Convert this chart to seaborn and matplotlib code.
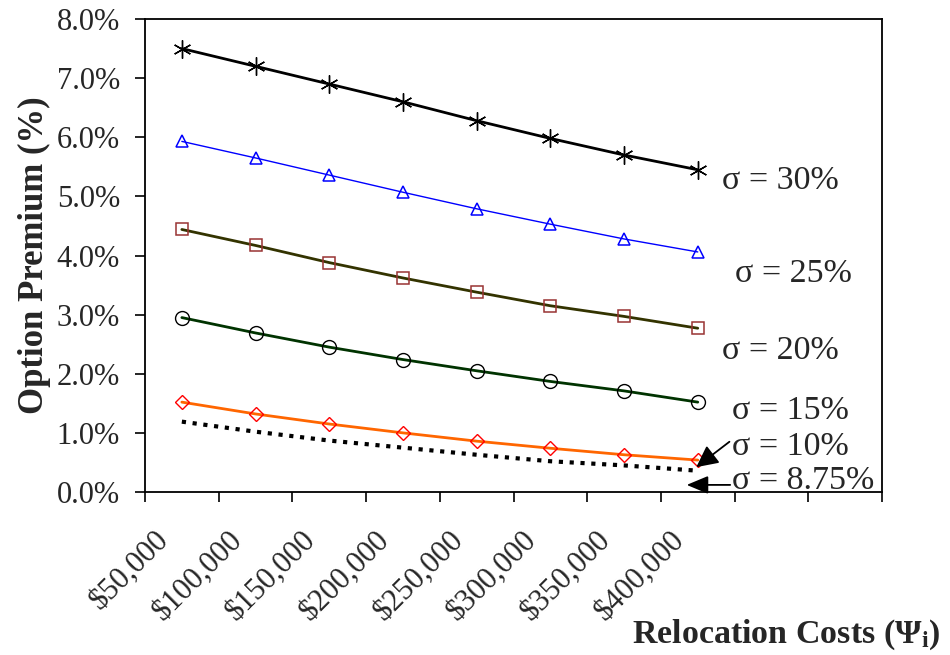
import matplotlib
matplotlib.use("Agg")
import matplotlib.pyplot as plt
import matplotlib.transforms as mtransforms
import seaborn as sns
import numpy as np
import pandas as pd
from matplotlib.ticker import FixedLocator, FuncFormatter

categories = ["$50,000", "$100,000", "$150,000", "$200,000",
              "$250,000", "$300,000", "$350,000", "$400,000"]
sigma_30 = [7.50, 7.20, 6.90, 6.60, 6.28, 5.98, 5.70, 5.45]
sigma_25 = [5.93, 5.65, 5.36, 5.07, 4.79, 4.53, 4.28, 4.06]
sigma_20 = [4.44, 4.17, 3.88, 3.62, 3.38, 3.15, 2.97, 2.77]
sigma_15 = [2.95, 2.69, 2.45, 2.24, 2.05, 1.87, 1.71, 1.52]
sigma_10 = [1.52, 1.32, 1.15, 1.00, 0.86, 0.74, 0.63, 0.54]
sigma_875 = [1.19, 1.02, 0.87, 0.75, 0.63, 0.52, 0.45, 0.36]
labels = ["σ = 30%", "σ = 25%", "σ = 20%", "σ = 15%", "σ = 10%", "σ = 8.75%"]

sns.set_theme(style="white")
plt.rcParams["font.family"] = ["Liberation Serif", "DejaVu Serif"]
plt.rcParams["mathtext.fontset"] = "custom"
plt.rcParams["mathtext.rm"] = "Liberation Serif"
plt.rcParams["mathtext.bf"] = "Liberation Serif:bold"
plt.rcParams["mathtext.it"] = "Liberation Serif:italic"

fig = plt.figure(figsize=(9.5, 6.55), dpi=100)
ax = fig.add_axes([145/950, 1-492/655, (882-145)/950, (492-19)/655])

x = np.arange(len(categories))
styles = [
    dict(data=sigma_30, color="black", lw=2.0, marker=(6, 2, 0), ms=13, mfc="none", mec="black", mew=1.0),
    dict(data=sigma_25, color="#0000FF", lw=1.0, marker="^", ms=9, mfc="none", mec="#0000FF", mew=1.1),
    dict(data=sigma_20, color="#333300", lw=2.0, marker="s", ms=8, mfc="none", mec="#993333", mew=1.1),
    dict(data=sigma_15, color="#003300", lw=2.0, marker="o", ms=10, mfc="none", mec="black", mew=1.0),
    dict(data=sigma_10, color="#FF6600", lw=2.0, marker="D", ms=7, mfc="none", mec="#FF0000", mew=1.0),
]
for st in styles:
    df = pd.DataFrame({"x": x, "y": st["data"]})
    sns.lineplot(data=df, x="x", y="y", ax=ax, color=st["color"], linewidth=st["lw"],
                 marker=st["marker"], markersize=st["ms"], markerfacecolor=st["mfc"],
                 markeredgecolor=st["mec"], markeredgewidth=st["mew"], zorder=3)
df = pd.DataFrame({"x": x, "y": sigma_875})
sns.lineplot(data=df, x="x", y="y", ax=ax, color="black", linewidth=3.0,
             linestyle=(0, (1.0, 1.6)), zorder=3)

ax.set_xlim(-0.5, 9.5)
ax.set_ylim(0, 8)

ax.xaxis.set_major_locator(FixedLocator(np.arange(-0.5, 10.0, 1.0)))
ax.xaxis.set_major_formatter(FuncFormatter(lambda v, p: ""))
ax.xaxis.set_minor_locator(FixedLocator(x))
ax.set_xticklabels(categories, minor=True)
ax.tick_params(axis="x", which="major", direction="out", length=7, width=1.2, color="black", bottom=True)
ax.tick_params(axis="x", which="minor", length=0, pad=0, labelsize=22)
offset = mtransforms.ScaledTranslation(-0.28, -0.33, fig.dpi_scale_trans)
for lab in ax.get_xticklabels(minor=True):
    lab.set_rotation(45)
    lab.set_ha("right")
    lab.set_va("top")
    lab.set_rotation_mode("anchor")
    lab.set_transform(lab.get_transform() + offset)

ax.set_yticks(np.arange(0, 8.01, 1.0))
ax.yaxis.set_major_formatter(FuncFormatter(lambda v, p: f"{v:.1f}%"))
ax.tick_params(axis="y", direction="out", length=7, width=1.2, color="black", left=True, labelsize=22, pad=11)

for s in ax.spines.values():
    s.set_color("black")
    s.set_linewidth(1.3)

ax.set_xlabel("")
ax.set_ylabel("Option Premium (%)", fontsize=25, fontweight="bold", labelpad=4)
fig.text(0.99, 1-643/655, "Relocation Costs (Ψ$_\\mathbf{i}$)", fontsize=24.5, fontweight="bold",
         ha="right", va="baseline")

fs = 24.5
ax.text(7.33, 5.26, labels[0], fontsize=fs, va="center", ha="left")
ax.text(7.50, 3.69, labels[1], fontsize=fs, va="center", ha="left")
ax.text(7.33, 2.39, labels[2], fontsize=fs, va="center", ha="left")
ax.text(7.46, 1.37, labels[3], fontsize=fs, va="center", ha="left")
ax.text(7.46, 0.76, labels[4], fontsize=fs, va="center", ha="left")
ax.text(7.46, 0.19, labels[5], fontsize=fs, va="center", ha="left")

ax.annotate("", xy=(6.98, 0.42), xytext=(7.43, 0.85), xycoords="data", textcoords="data",
            arrowprops=dict(arrowstyle="-|>,head_length=0.6,head_width=0.3", color="black", lw=1.3,
                            mutation_scale=22, shrinkA=0, shrinkB=0, patchA=None, patchB=None),
            annotation_clip=False)
ax.annotate("", xy=(6.85, 0.12), xytext=(7.44, 0.12), xycoords="data", textcoords="data",
            arrowprops=dict(arrowstyle="-|>,head_length=0.6,head_width=0.25", color="black", lw=1.3,
                            mutation_scale=22, shrinkA=0, shrinkB=0, patchA=None, patchB=None),
            annotation_clip=False)

fig.savefig("out.png", dpi=100)
